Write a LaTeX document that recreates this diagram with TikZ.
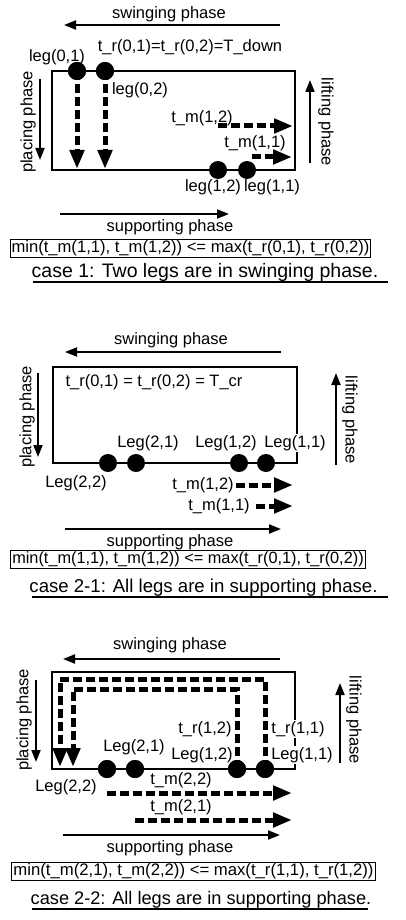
\documentclass[tikz,border=0pt]{standalone}
\usepackage{fontspec}
\setmainfont{Liberation Sans}
\usetikzlibrary{arrows.meta}
\begin{document}
\begin{tikzpicture}[x=1pt,y=-1pt,
  lbl/.style={font=\fontsize{16.5}{18}\selectfont, inner sep=1pt},
  wlbl/.style={lbl, fill=white, inner sep=1.5pt},
  captxt/.style={inner sep=0pt},
  phasearrow/.style={line width=2pt, -{Triangle[length=12pt,width=9pt]}},
  dasharrow/.style={line width=5pt, dash pattern=on 9pt off 4pt, -{Triangle[length=19pt,width=14pt]}},
  dasharrowj/.style={dasharrow, line join=miter},
  dot/.style={circle, fill=black, inner sep=0pt, minimum size=18pt},
  frame/.style={line width=2.5pt},
  formula/.style={draw, line width=1pt, inner xsep=1.5pt, inner ysep=0pt, minimum height=18pt},
  uline/.style={line width=1.2pt}]
\useasboundingbox (0,0) rectangle (406,920);

% ================= case 1 =================
\coordinate (sw1a) at (280,25); \coordinate (sw1b) at (64,25);
\draw[phasearrow] (sw1a) -- (sw1b);
\node[lbl] (sw1) at (169,14) {swinging phase};
\node[lbl] (tr1) at (190,47) {t\_r(0,1)=t\_r(0,2)=T\_down};
\node[lbl] (l01) at (57,57) {leg(0,1)};
\draw[frame] (52,71) rectangle (295,170);
\coordinate (pl1a) at (40,79); \coordinate (pl1b) at (40,160);
\draw[phasearrow] (pl1a) -- (pl1b);
\node[lbl, rotate=90] (pl1) at (28,122) {placing phase};
\coordinate (li1a) at (310,163); \coordinate (li1b) at (310,80);
\draw[phasearrow] (li1a) -- (li1b);
\node[lbl, rotate=-90] (li1) at (326,122) {lifting phase};
\node[dot] (d01) at (77,71) {};
\node[dot] (d02) at (105,71) {};
\coordinate (e01) at (77,169); \coordinate (e02) at (105,169);
\draw[dasharrow] (d01.center) -- (e01);
\draw[dasharrow] (d02.center) -- (e02);
\node[dot] at (77,71) {};
\node[dot] at (105,71) {};
\node[lbl] (l02) at (140,90) {leg(0,2)};
\node[lbl] (tm12a) at (202,118) {t\_m(1,2)};
\coordinate (tm12s) at (218,126); \coordinate (tm12e) at (293,126);
\draw[dasharrow] (tm12s) -- (tm12e);
\node[lbl] (tm11a) at (255,143) {t\_m(1,1)};
\coordinate (tm11s) at (252,157); \coordinate (tm11e) at (292,157);
\draw[dasharrow] (tm11s) -- (tm11e);
\node[dot] (d12) at (218,170) {};
\node[dot] (d11) at (247,170) {};
\node[lbl] (l12) at (213,187) {leg(1,2)};
\node[lbl] (l11) at (272,187) {leg(1,1)};
\coordinate (su1a) at (60,214); \coordinate (su1b) at (229,214);
\draw[phasearrow] (su1a) -- (su1b);
\node[lbl] (su1) at (170,227) {supporting phase};
\node[formula, font=\fontsize{16.6}{18}\selectfont] (f1) at (190.5,248.5) {min(t\_m(1,1), t\_m(1,2)) <= max(t\_r(0,1), t\_r(0,2))};
\node[captxt, font=\fontsize{19.5}{22}\selectfont] (c1) at (205,272) {case 1: Two legs are in swinging phase.};
\coordinate (u1a) at (33,282); \coordinate (u1b) at (388,282);
\draw[uline] (u1a) -- (u1b);

% ================= case 2-1 =================
\coordinate (sw2a) at (281,352); \coordinate (sw2b) at (65,352);
\draw[phasearrow] (sw2a) -- (sw2b);
\node[lbl] (sw2) at (171,340) {swinging phase};
\draw[frame] (53,367) rectangle (297,463);
\node[lbl] (tr2) at (154,382) {t\_r(0,1) = t\_r(0,2) = T\_cr};
\coordinate (pl2a) at (38,373); \coordinate (pl2b) at (38,457);
\draw[phasearrow] (pl2a) -- (pl2b);
\node[lbl, rotate=90] (pl2) at (27,417) {placing phase};
\coordinate (li2a) at (336,465); \coordinate (li2b) at (336,373);
\draw[phasearrow] (li2a) -- (li2b);
\node[lbl, rotate=-90] (li2) at (350,420) {lifting phase};
\node[dot] (e22) at (108,463) {};
\node[dot] (e21) at (136,463) {};
\node[dot] (e12) at (239,463) {};
\node[dot] (e11) at (266,463) {};
\node[lbl] (m21) at (148,443) {Leg(2,1)};
\node[lbl] (m12) at (226,443) {Leg(1,2)};
\node[wlbl] (m11) at (295,443) {Leg(1,1)};
\node[lbl] (m22) at (76,483) {Leg(2,2)};
\node[lbl] (tm12b) at (203,485) {t\_m(1,2)};
\coordinate (tm12bs) at (236,485); \coordinate (tm12be) at (293,485);
\draw[dasharrow] (tm12bs) -- (tm12be);
\node[lbl] (tm11b) at (219,506) {t\_m(1,1)};
\coordinate (tm11bs) at (256,506); \coordinate (tm11be) at (293,506);
\draw[dasharrow] (tm11bs) -- (tm11be);
\coordinate (su2a) at (65,529); \coordinate (su2b) at (281,529);
\draw[phasearrow] (su2a) -- (su2b);
\node[lbl] (su2) at (170,542) {supporting phase};
\node[formula, font=\fontsize{16.3}{18}\selectfont] (f2) at (188,559.5) {min(t\_m(1,1), t\_m(1,2)) <= max(t\_r(0,1), t\_r(0,2))};
\node[captxt, font=\fontsize{18.6}{22}\selectfont] (c2) at (203.5,588) {case 2-1: All legs are in supporting phase.};
\coordinate (u2a) at (32,597); \coordinate (u2b) at (388,597);
\draw[uline] (u2a) -- (u2b);

% ================= case 2-2 =================
\coordinate (sw3a) at (280,659); \coordinate (sw3b) at (63,659);
\draw[phasearrow] (sw3a) -- (sw3b);
\node[lbl] (sw3) at (170,645) {swinging phase};
\draw[frame] (52,672) rectangle (295,769);
\coordinate (pl3a) at (36,680); \coordinate (pl3b) at (36,762);
\draw[phasearrow] (pl3a) -- (pl3b);
\node[lbl, rotate=90] (pl3) at (24,720) {placing phase};
\coordinate (li3a) at (340,763); \coordinate (li3b) at (340,683);
\draw[phasearrow] (li3a) -- (li3b);
\node[lbl, rotate=-90] (li3) at (354,720) {lifting phase};
\node[wlbl] (tr11) at (298,729) {t\_r(1,1)};
\node[wlbl] (n11) at (302,755) {Leg(1,1)};
\node[dot] (g22) at (107,769) {};
\node[dot] (g21) at (135,769) {};
\node[dot] (g12) at (237,769) {};
\node[dot] (g11) at (265,769) {};
\coordinate (o1) at (265,679); \coordinate (o2) at (60,679); \coordinate (o3) at (60,767);
\coordinate (i1) at (237,689); \coordinate (i2) at (73,689); \coordinate (i3) at (73,767);
\draw[dasharrowj] (g11.center) -- (o1) -- (o2) -- (o3);
\draw[dasharrowj] (g12.center) -- (i1) -- (i2) -- (i3);
\node[dot] at (107,769) {};
\node[dot] at (135,769) {};
\node[dot] at (237,769) {};
\node[dot] at (265,769) {};
\node[lbl] (tr12) at (205,729) {t\_r(1,2)};
\node[lbl] (n21) at (134,747) {Leg(2,1)};
\node[lbl] (n12) at (202,755) {Leg(1,2)};
\node[lbl] (n22) at (66,787) {Leg(2,2)};
\node[lbl] (tm22) at (181,780) {t\_m(2,2)};
\coordinate (tm22s) at (107,793); \coordinate (tm22e) at (292,793);
\draw[dasharrow] (tm22s) -- (tm22e);
\node[lbl] (tm21) at (181,807) {t\_m(2,1)};
\coordinate (tm21s) at (135,820); \coordinate (tm21e) at (292,820);
\draw[dasharrow] (tm21s) -- (tm21e);
\coordinate (su3a) at (63,835); \coordinate (su3b) at (280,835);
\draw[phasearrow] (su3a) -- (su3b);
\node[lbl] (su3) at (170,848) {supporting phase};
\node[formula, font=\fontsize{16.7}{18}\selectfont] (f3) at (193.5,871.5) {min(t\_m(2,1), t\_m(2,2)) <= max(t\_r(1,1), t\_r(1,2))};
\node[captxt, font=\fontsize{18.2}{22}\selectfont] (c3) at (201,900) {case 2-2: All legs are in supporting phase.};
\coordinate (u3a) at (32,909); \coordinate (u3b) at (368,909);
\draw[uline] (u3a) -- (u3b);
\end{tikzpicture}
\end{document}
